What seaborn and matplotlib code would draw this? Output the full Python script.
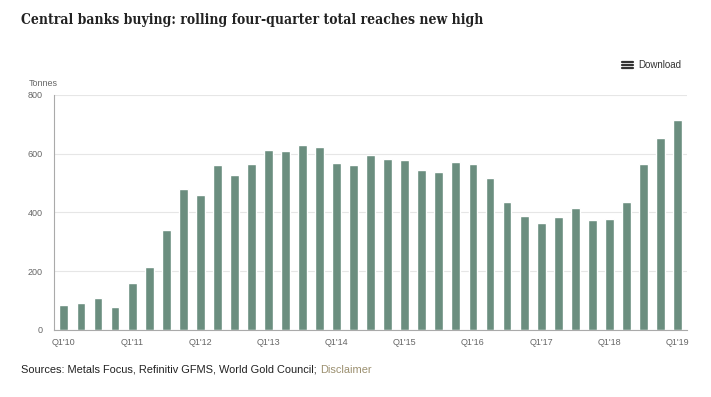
import pandas as pd
import matplotlib
matplotlib.use('Agg')
import matplotlib.pyplot as plt
from matplotlib import font_manager
import seaborn as sns

# Rolling four-quarter central bank gold purchases, tonnes
quarters = [f"Q{q}'{y:02d}" for y in range(10, 19) for q in range(1, 5)] + ["Q1'19"]
tonnes = [86, 92, 108, 78, 161, 213, 339, 478, 459, 560, 528, 565,
          613, 608, 629, 621, 568, 562, 597, 581, 577, 546, 538, 573,
          565, 518, 437, 387, 365, 384, 416, 374, 378, 435, 565, 654, 713]
tick_labels = ["Q1'10", "Q1'11", "Q1'12", "Q1'13", "Q1'14",
               "Q1'15", "Q1'16", "Q1'17", "Q1'18", "Q1'19"]

df = pd.DataFrame({'Quarter': quarters, 'Tonnes': tonnes})

sns.set_theme(style='white')
plt.rcParams['font.family'] = ['Liberation Sans', 'DejaVu Sans']

fig = plt.figure(figsize=(7.11, 3.97), dpi=100)
ax = fig.add_axes([0.076, 0.169, 0.890, 0.592])

sns.barplot(data=df, x='Quarter', y='Tonnes', color='#6b8e7f', saturation=1,
            width=0.52, ax=ax)

ax.set_xlim(-0.58, 36.55)
ax.set_ylim(0, 800)
ax.set_yticks([0, 200, 400, 600, 800])
ax.set_xticks([quarters.index(t) for t in tick_labels])
ax.set_xticklabels(tick_labels)
ax.tick_params(axis='both', length=0, labelsize=6.5, colors='#666666')
ax.tick_params(axis='y', pad=8)
ax.tick_params(axis='x', pad=6)
ax.set_xlabel('')
ax.set_ylabel('')
ax.yaxis.grid(True, color='#e6e6e6', linewidth=0.8)
ax.set_axisbelow(True)
for side in ['top', 'right']:
    ax.spines[side].set_visible(False)
for side in ['left', 'bottom']:
    ax.spines[side].set_color('#aaaaaa')
    ax.spines[side].set_linewidth(0.8)

# use the condensed serif if it is installed, it is closer to the slab title font
has_condensed = any(f.name == 'DejaVu Serif' and f.stretch == 'condensed'
                    for f in font_manager.fontManager.ttflist)
title_kw = dict(fontstretch='condensed', fontsize=10) if has_condensed else dict(fontsize=8.9)

# Title, unit label, download link and sources
fig.text(21 / 711, 1 - 24 / 397, 'Central banks buying: rolling four-quarter total reaches new high',
         family='DejaVu Serif', weight='bold', color='#222222', va='baseline', **title_kw)
fig.text(29 / 711, 1 - 84 / 397, 'Tonnes', fontsize=6.5, color='#666666', va='center')
fig.text(638 / 711, 1 - 65 / 397, 'Download', fontsize=7, color='#333333', va='center')
for dy in (-3, 0, 3):
    fig.add_artist(plt.Line2D([622 / 711, 633 / 711], [1 - (65 + dy) / 397] * 2,
                              color='#333333', linewidth=1.6))
src = fig.text(21 / 711, 1 - 373 / 397, 'Sources: Metals Focus, Refinitiv GFMS, World Gold Council; ',
               fontsize=7.95, color='#222222', va='baseline')
fig.canvas.draw()
bb = src.get_window_extent()
fig.text(bb.x1 / fig.bbox.width, 1 - 373 / 397, 'Disclaimer', fontsize=7.95,
         color='#9c9070', va='baseline')

fig.savefig('out.png', dpi=100)
